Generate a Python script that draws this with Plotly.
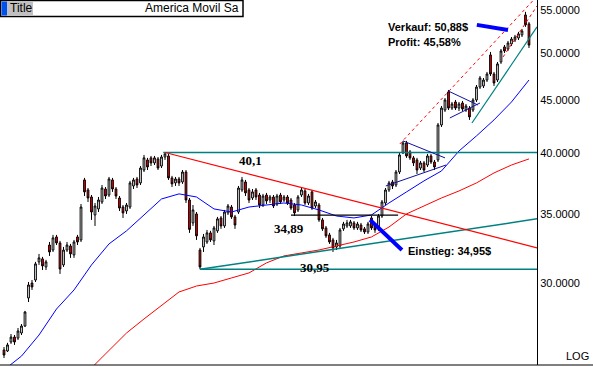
import plotly.graph_objects as go
import math

# ---------------- data ----------------
opens = [25.88,25.82,26.34,26.63,26.57,26.87,27.29,29.04,30.02,30.22,
31.46,31.67,31.11,32.66,32.30,33.25,32.81,31.25,32.30,32.59,
31.95,33.25,33.03,37.73,36.90,36.33,34.91,35.38,35.93,36.98,
36.49,37.73,36.98,36.25,35.53,35.22,35.53,37.23,37.81,37.48,
38.57,39.44,39.62,39.18,39.53,38.91,39.70,39.79,37.90,37.48,
37.81,37.56,38.40,36.09,34.30,34.99,32.30,32.52,32.88,33.55,
32.96,33.70,34.68,34.07,35.07,35.53,34.76,35.14,36.90,37.56,
36.90,36.25,36.90,36.49,35.69,36.49,36.09,36.33,35.77,36.49,
36.09,36.33,36.09,35.69,35.30,36.49,36.82,35.85,36.74,35.61,
35.69,34.53,33.92,33.40,33.03,32.52,32.59,33.85,34.07,34.07,
34.30,33.92,34.14,33.85,33.62,34.68,34.07,33.85,34.83,35.85,
36.90,37.56,37.31,38.40,40.06,40.95,40.15,39.62,39.44,38.74,
39.18,39.00,39.79,39.26,39.44,42.62,44.06,45.86,44.25,44.85,
44.25,44.75,44.06,44.25,44.06,45.05,46.36,46.47,47.09,49.78,
47.72,47.09,49.01,50.67,50.44,51.01,51.46,51.69,52.04,54.40,
53.33]
closes = [25.59,26.17,26.63,26.34,26.99,27.29,28.15,29.89,29.76,31.32,
31.74,31.18,31.46,32.16,33.18,32.81,30.97,32.30,32.66,32.02,
32.88,32.88,35.53,36.74,36.25,35.14,35.61,36.09,37.06,36.41,
37.81,36.98,36.41,35.45,35.07,35.69,37.48,37.73,37.31,38.74,
39.62,38.83,39.18,39.62,38.74,39.70,39.97,37.90,37.40,37.81,
37.48,38.40,36.09,33.81,35.30,33.33,31.11,33.25,33.55,33.03,
33.92,34.61,34.07,35.14,35.61,34.76,34.14,37.06,37.73,36.66,
36.09,36.74,36.33,35.69,36.41,36.01,36.33,35.61,36.41,35.93,
36.33,35.85,35.45,35.07,36.33,36.90,35.85,36.41,35.45,35.93,
34.53,33.85,33.33,32.88,32.45,32.81,33.77,34.22,34.30,34.38,
33.92,34.22,33.77,33.62,34.22,33.92,33.77,34.83,35.93,36.90,
37.48,37.23,38.40,39.88,40.95,39.79,39.62,39.18,38.57,39.18,
38.57,39.79,39.26,38.83,42.62,44.25,45.05,44.25,44.65,44.25,
44.65,44.16,44.45,43.39,45.05,46.36,47.30,47.09,47.72,47.72,
46.78,48.80,50.22,50.22,51.12,51.57,51.80,52.16,52.50,53.21,
50.88]
highs = [26.05,26.29,26.81,26.75,27.17,27.41,28.22,30.09,30.22,31.46,
32.02,31.81,31.60,32.88,33.40,33.40,32.96,32.52,32.88,32.74,
33.03,33.40,35.77,37.90,37.06,36.49,35.85,36.33,37.31,37.14,
37.98,37.90,37.14,36.41,35.69,35.85,37.65,37.90,37.98,38.91,
39.88,39.62,39.79,39.79,39.70,39.88,40.10,39.97,38.07,37.98,
37.98,38.57,38.57,36.25,35.69,35.14,32.45,33.47,33.77,33.70,
34.07,34.76,34.83,35.30,35.77,35.69,34.91,37.23,37.98,37.73,
37.06,36.98,37.06,36.66,36.58,36.66,36.49,36.49,36.58,36.66,
36.49,36.49,36.25,35.85,36.49,37.14,36.98,36.58,36.90,36.09,
35.85,34.68,34.07,33.55,33.18,33.03,33.92,34.38,34.53,34.53,
34.45,34.38,34.30,33.99,34.38,34.83,34.22,34.99,36.09,37.06,
37.65,37.73,38.57,40.06,41.14,41.14,40.32,39.79,39.62,39.35,
39.35,39.97,39.97,39.44,42.81,44.45,45.24,46.06,44.85,45.05,
44.85,44.95,44.65,44.45,45.24,46.57,47.51,47.30,47.94,50.11,
47.94,49.01,50.44,50.89,51.35,51.80,52.04,52.39,52.74,54.77,
53.56]
lows = [25.42,25.76,26.23,26.17,26.46,26.75,27.23,28.78,29.56,30.09,
31.25,30.90,30.90,31.88,32.16,32.66,30.63,31.11,32.16,31.74,
31.74,32.66,32.88,36.41,35.93,34.53,34.07,35.14,35.77,36.17,
36.33,36.74,36.17,35.22,34.68,34.99,35.38,36.98,37.06,37.31,
38.40,38.57,38.91,39.00,38.57,38.74,39.44,37.73,37.14,37.23,
37.23,37.40,35.85,33.55,34.07,33.03,30.95,32.16,32.74,32.88,
32.66,33.55,33.85,33.92,34.91,34.61,33.85,34.99,36.74,36.41,
35.85,36.09,36.09,35.45,35.53,35.77,35.85,35.45,35.61,35.77,
35.93,35.69,35.30,34.83,35.14,36.33,35.69,35.69,35.30,35.45,
34.38,33.70,33.18,32.74,32.16,32.30,32.45,33.70,33.92,33.92,
33.77,33.77,33.62,33.47,33.47,33.77,33.55,33.70,34.68,35.69,
36.74,36.98,37.14,38.23,39.97,39.62,39.44,38.91,38.23,38.57,
38.40,38.83,39.09,38.57,39.26,42.43,43.87,44.06,44.06,44.06,
43.96,43.96,43.87,43.10,43.87,44.85,46.16,46.26,46.88,47.51,
46.47,46.88,48.80,50.00,50.22,50.78,51.23,51.46,51.80,52.98,
50.55]
bars = list(range(len(closes)))

ma_short_x = list(range(0, 151, 5))
ma_short = [24.76,25.53,26.75,28.34,29.56,31.25,32.74,33.70,34.91,36.17,
            36.58,36.33,35.38,35.14,35.53,35.69,35.85,35.69,35.30,34.83,
            34.68,34.91,35.85,36.74,37.65,38.49,40.23,41.60,43.10,44.85,47.09]
ma_long_x = list(range(25, 151, 5))
ma_long = [24.87,25.83,26.87,27.72,28.59,29.43,29.82,30.02,30.36,30.70,
           31.39,31.88,32.09,32.30,32.59,32.88,33.25,33.99,34.99,35.61,
           36.25,36.82,37.48,38.32,39.00,39.53]

# levels / trendlines (bar index, price)
level_high = 40.1
level_low = 30.95
level_mid = 34.89
entry_price = 34.95
exit_price = 50.88
profit_pct = 45.58
x_end = 152.3
down_trend = ([46, x_end], [40.1, 32.45])
up_trend = ([56, x_end], [30.95, 34.61])
chan_dash1 = ([113.1, x_end], [40.86, 56.7])
chan_dash2 = ([142.6, x_end], [49.56, 55.49])
chan_low = ([133.7, x_end], [42.81, 52.97])
tri1_up = ([114, 126], [41.14, 39.62])
tri1_lo = ([109.1, 126.3], [37.23, 39.00])
tri2_up = ([126.9, 135.4], [45.96, 44.55])
tri2_lo = ([127.4, 136], [43.29, 44.75])
entry_arrow = ([104.6, 113.7], [34.53, 32.30])
exit_arrow = ([135.1, 144], [53.21, 52.62])

tick_vals = [30, 35, 40, 45, 50, 55]
tick_text = ["30.0000", "35.0000", "40.0000", "45.0000", "50.0000", "55.0000"]

# ---------------- figure ----------------
fig = go.Figure()
TEAL = "#008080"
RED = "#ff0000"
BLUE = "#0000ff"
NAVY = "#1010a0"

def seg(xy, color, width=1, dash=None):
    fig.add_trace(go.Scatter(x=xy[0], y=xy[1], mode="lines",
                             line=dict(color=color, width=width, dash=dash),
                             hoverinfo="skip", showlegend=False))

fig.add_trace(go.Scatter(x=ma_long_x, y=ma_long, mode="lines",
                         line=dict(color=RED, width=1), showlegend=False))
fig.add_trace(go.Scatter(x=ma_short_x, y=ma_short, mode="lines",
                         line=dict(color=BLUE, width=1), showlegend=False))

seg(([45.5, x_end], [level_high, level_high]), TEAL, 1.5)
seg(([56, x_end], [level_low, level_low]), TEAL, 1.5)
seg(up_trend, TEAL, 1.5)
seg(down_trend, RED, 1.2)
seg(([82, 112.6], [level_mid, level_mid]), "black", 1.2)
seg(chan_dash1, RED, 1, "3px,3px")
seg(chan_dash2, RED, 1, "3px,3px")
seg(chan_low, TEAL, 1.2)
seg(tri1_up, NAVY, 1)
seg(tri1_lo, NAVY, 1)
seg(tri2_up, NAVY, 1)
seg(tri2_lo, NAVY, 1)

fig.add_trace(go.Candlestick(
    x=bars, open=opens, high=highs, low=lows, close=closes,
    increasing=dict(line=dict(color="black", width=1), fillcolor="white"),
    decreasing=dict(line=dict(color="black", width=1), fillcolor=RED),
    whiskerwidth=0, showlegend=False))

seg(entry_arrow, BLUE, 4)
seg(exit_arrow, BLUE, 4)

bold_serif = dict(family="Liberation Serif", size=13, color="black")
bold_sans = dict(family="Liberation Sans", size=11, color="black")

def lvl(v):
    return f"{v:g}".replace(".", ",")

fig.add_annotation(x=70.3, y=math.log10(39.35), text="<b>" + lvl(level_high) + "</b>", font=bold_serif,
                   showarrow=False, xanchor="center", yanchor="middle")
fig.add_annotation(x=81.4, y=math.log10(33.88), text="<b>" + lvl(level_mid) + "</b>", font=bold_serif,
                   showarrow=False, xanchor="center", yanchor="middle")
fig.add_annotation(x=88.9, y=math.log10(31.04), text="<b>" + lvl(level_low) + "</b>", font=bold_serif,
                   showarrow=False, xanchor="center", yanchor="middle")
fig.add_annotation(x=114.9, y=math.log10(32.23), text="<b>Einstieg: " + f"{entry_price:.2f}".replace(".", ",") + "$</b>",
                   font=bold_sans, showarrow=False, xanchor="left", yanchor="middle")
fig.add_annotation(x=109.1, y=math.log10(52.97), text="<b>Verkauf: " + f"{exit_price:.2f}".replace(".", ",") + "$</b>",
                   font=bold_sans, showarrow=False, xanchor="left", yanchor="middle")
fig.add_annotation(x=109.1, y=math.log10(51.22), text="<b>Profit: " + f"{profit_pct:.2f}".replace(".", ",") + "%</b>",
                   font=bold_sans, showarrow=False, xanchor="left", yanchor="middle")

W, H = 537.0, 365.0
def px(x):
    return x / W
def py(y):
    return 1 - y / H

# title box
fig.add_shape(type="rect", xref="paper", yref="paper", x0=px(0.5), x1=px(243), y0=py(16.5), y1=py(0.5),
              line=dict(color="black", width=1.5), fillcolor="white", layer="above")
fig.add_shape(type="rect", xref="paper", yref="paper", x0=px(1.5), x1=px(7), y0=py(15.5), y1=py(1.5),
              line=dict(width=0), fillcolor="#0050f0", layer="above")
fig.add_shape(type="rect", xref="paper", yref="paper", x0=px(7), x1=px(33), y0=py(15.5), y1=py(1.5),
              line=dict(width=0), fillcolor="#c0c0c0", layer="above")
fig.add_annotation(xref="paper", yref="paper", x=px(8), y=py(8), text="Title", showarrow=False,
                   xanchor="left", yanchor="middle", font=dict(family="Liberation Sans", size=12, color="black"))
fig.add_annotation(xref="paper", yref="paper", x=px(241), y=py(8), text="America Movil Sa", showarrow=False,
                   xanchor="right", yanchor="middle", font=dict(family="Liberation Sans", size=12, color="black"))
fig.add_annotation(xref="paper", yref="paper", x=px(591), y=py(356), text="LOG", showarrow=False,
                   xanchor="right", yanchor="middle", font=dict(family="Liberation Sans", size=11, color="black"))
# bottom line
fig.add_shape(type="line", xref="paper", yref="paper", x0=0, x1=px(593), y0=0, y1=0,
              line=dict(color="black", width=1))

fig.update_layout(
    width=593, height=367,
    margin=dict(l=0, r=56, t=0, b=2),
    paper_bgcolor="white", plot_bgcolor="white",
    showlegend=False,
    xaxis=dict(range=[-1.143, 152.29], showgrid=False, zeroline=False, showticklabels=False,
               ticks="", rangeslider=dict(visible=False), fixedrange=True),
    yaxis=dict(type="log", range=[math.log10(25.03), math.log10(56.23)], side="right",
               tickvals=tick_vals, ticktext=tick_text, showgrid=False, zeroline=False,
               showline=True, linecolor="black", linewidth=1, ticks="",
               tickfont=dict(family="Liberation Sans", size=11, color="black")),
)

fig.write_html("out.html", config={"displayModeBar": False})
with open("out.html", "r", encoding="utf-8") as f:
    html = f.read()
html = html.replace("<head>", "<head><style>html,body{margin:0;padding:0;overflow:hidden;}</style>", 1)
with open("out.html", "w", encoding="utf-8") as f:
    f.write(html)
